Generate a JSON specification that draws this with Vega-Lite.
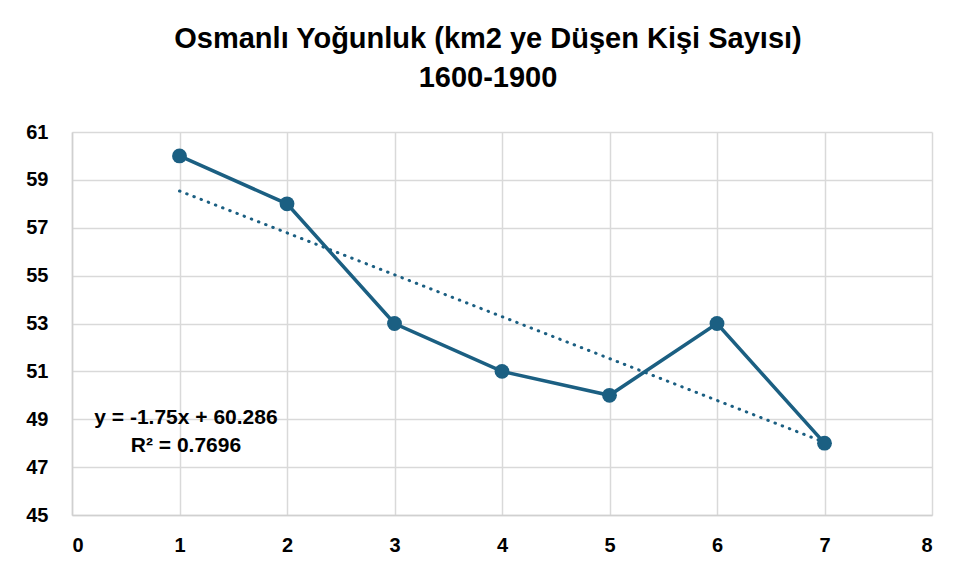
{
  "$schema": "https://vega.github.io/schema/vega-lite/v6.json",
  "width": 860,
  "height": 383,
  "autosize": {"type": "none"},
  "padding": {"left": 72, "top": 132, "right": 23, "bottom": 63},
  "background": "white",
  "config": {
    "font": "Liberation Sans",
    "view": {"stroke": null},
    "axis": {
      "labelFont": "Liberation Sans",
      "labelFontWeight": "bold",
      "labelFontSize": 20,
      "labelColor": "#000000",
      "gridColor": "#d9d9d9",
      "gridWidth": 1.5,
      "domainColor": "#d0d0d0",
      "domainWidth": 1.5,
      "ticks": false,
      "title": null
    }
  },
  "title": {
    "text": ["Osmanlı Yoğunluk (km2 ye Düşen Kişi Sayısı)", "1600-1900"],
    "font": "Liberation Sans",
    "fontSize": 29,
    "fontWeight": "bold",
    "color": "#000000",
    "anchor": "middle",
    "frame": "group",
    "dx": -14,
    "lineHeight": 39,
    "offset": 29
  },
  "datasets": {
    "series": [
      {"x": 1, "y": 60},
      {"x": 2, "y": 58},
      {"x": 3, "y": 53},
      {"x": 4, "y": 51},
      {"x": 5, "y": 50},
      {"x": 6, "y": 53},
      {"x": 7, "y": 48}
    ],
    "trend": [
      {"x": 1, "y": 58.536},
      {"x": 7, "y": 48.036}
    ],
    "eq": [
      {"label": "y = -1.75x + 60.286", "x": 1.06, "y": 49.05},
      {"label": "R² = 0.7696", "x": 1.06, "y": 47.88}
    ]
  },
  "layer": [
    {
      "data": {"name": "trend"},
      "mark": {"type": "line", "color": "#1b5f82", "strokeWidth": 3, "strokeDash": [0.5, 7.2], "strokeCap": "round"},
      "encoding": {
        "x": {"field": "x", "type": "quantitative", "scale": {"domain": [0, 8], "nice": false}, "axis": {"values": [0,1,2,3,4,5,6,7,8], "labelPadding": 20, "grid": true, "format": "d"}},
        "y": {"field": "y", "type": "quantitative", "scale": {"domain": [45, 61], "nice": false, "zero": false}, "axis": {"values": [45,47,49,51,53,55,57,59,61], "labelPadding": 24, "grid": true}}
      }
    },
    {
      "data": {"name": "series"},
      "mark": {"type": "line", "color": "#1b5f82", "strokeWidth": 3.5, "point": {"filled": true, "size": 220, "color": "#1b5f82", "opacity": 1}},
      "encoding": {
        "x": {"field": "x", "type": "quantitative"},
        "y": {"field": "y", "type": "quantitative"}
      }
    },
    {
      "data": {"name": "eq"},
      "mark": {"type": "text", "font": "Liberation Sans", "fontSize": 21, "fontWeight": "bold", "color": "#000000", "align": "center", "baseline": "middle"},
      "encoding": {
        "x": {"field": "x", "type": "quantitative"},
        "y": {"field": "y", "type": "quantitative"},
        "text": {"field": "label"}
      }
    }
  ]
}
